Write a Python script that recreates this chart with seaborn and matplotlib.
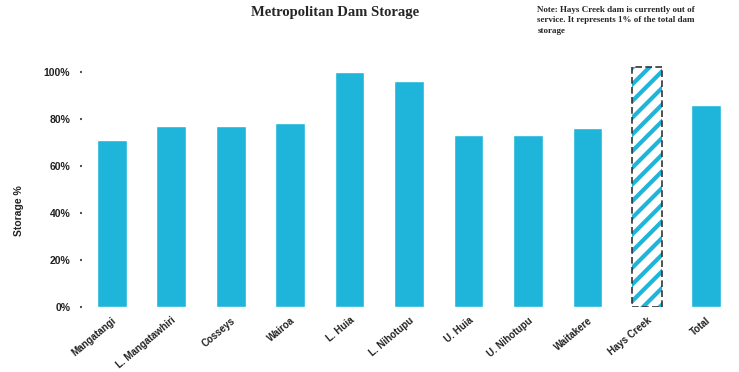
import matplotlib
matplotlib.use("Agg")
import matplotlib.pyplot as plt
from matplotlib.patches import Rectangle
from matplotlib.ticker import FuncFormatter
import seaborn as sns
import pandas as pd

dams = ["Mangatangi", "L. Mangatawhiri", "Cosseys", "Wairoa", "L. Huia",
        "L. Nihotupu", "U. Huia", "U. Nihotupu", "Waitakere", "Hays Creek", "Total"]
storage = [71, 77, 77, 78, 100, 96, 73, 73, 76, 102, 86]
out_of_service = "Hays Creek"

bar_color = "#1fb5da"

sns.set_theme(style="white")
plt.rcParams["font.family"] = ["Liberation Sans", "DejaVu Sans"]
plt.rcParams["hatch.linewidth"] = 3.0

df = pd.DataFrame({"Dam": dams, "Storage": storage})

fig = plt.figure(figsize=(7.39, 3.72), dpi=100)
ax = fig.add_axes([0.111, 0.175, 0.885, 0.664])

sns.barplot(data=df, x="Dam", y="Storage", color=bar_color, saturation=1,
            width=0.5, ax=ax, order=dams)

# hatched, dashed-outline bar for the dam that is offline
idx = dams.index(out_of_service)
p = ax.patches[idx]
p.set_facecolor("white")
p.set_edgecolor(bar_color)
p.set_hatch("//")
p.set_linewidth(0)
ax.add_patch(Rectangle((p.get_x(), p.get_y()), p.get_width(), p.get_height(),
                       fill=False, edgecolor="#333333", linestyle=(0, (4, 2)),
                       linewidth=1.2, zorder=p.get_zorder() + 1))

ax.set_xlim(-0.5, len(dams) - 0.5)
ax.set_ylim(0, 105)
ax.set_yticks([0, 20, 40, 60, 80, 100])
ax.yaxis.set_major_formatter(FuncFormatter(lambda v, _: f"{int(v)}%"))
ax.tick_params(axis="y", labelsize=7.5, left=True, length=1.5, width=1.5,
               color="#555555", pad=7)
ax.tick_params(axis="x", labelsize=7, length=0, pad=6)
for lbl in ax.get_yticklabels():
    lbl.set_fontweight("bold")
    lbl.set_color("#222222")
for lbl in ax.get_xticklabels():
    lbl.set_rotation(40)
    lbl.set_ha("right")
    lbl.set_rotation_mode("anchor")
    lbl.set_fontweight("bold")
    lbl.set_color("#222222")

ax.set_xlabel("")
ax.set_ylabel("Storage %", fontsize=7.5, fontweight="bold", color="#222222")
ax.yaxis.set_label_coords(-0.088, 0.39)
sns.despine(ax=ax, left=True, bottom=True)

fig.text(0.453, 0.985, "Metropolitan Dam Storage", ha="center", va="top",
         fontsize=10.5, fontweight="bold", family=["Liberation Serif", "DejaVu Serif"])
fig.text(0.727, 0.985,
         "Note: Hays Creek dam is currently out of\nservice. It represents 1% of the total dam\nstorage",
         ha="left", va="top", fontsize=6.5, fontweight="bold", linespacing=1.45,
         family=["Liberation Serif", "DejaVu Serif"])

fig.savefig("out.png", dpi=100)
